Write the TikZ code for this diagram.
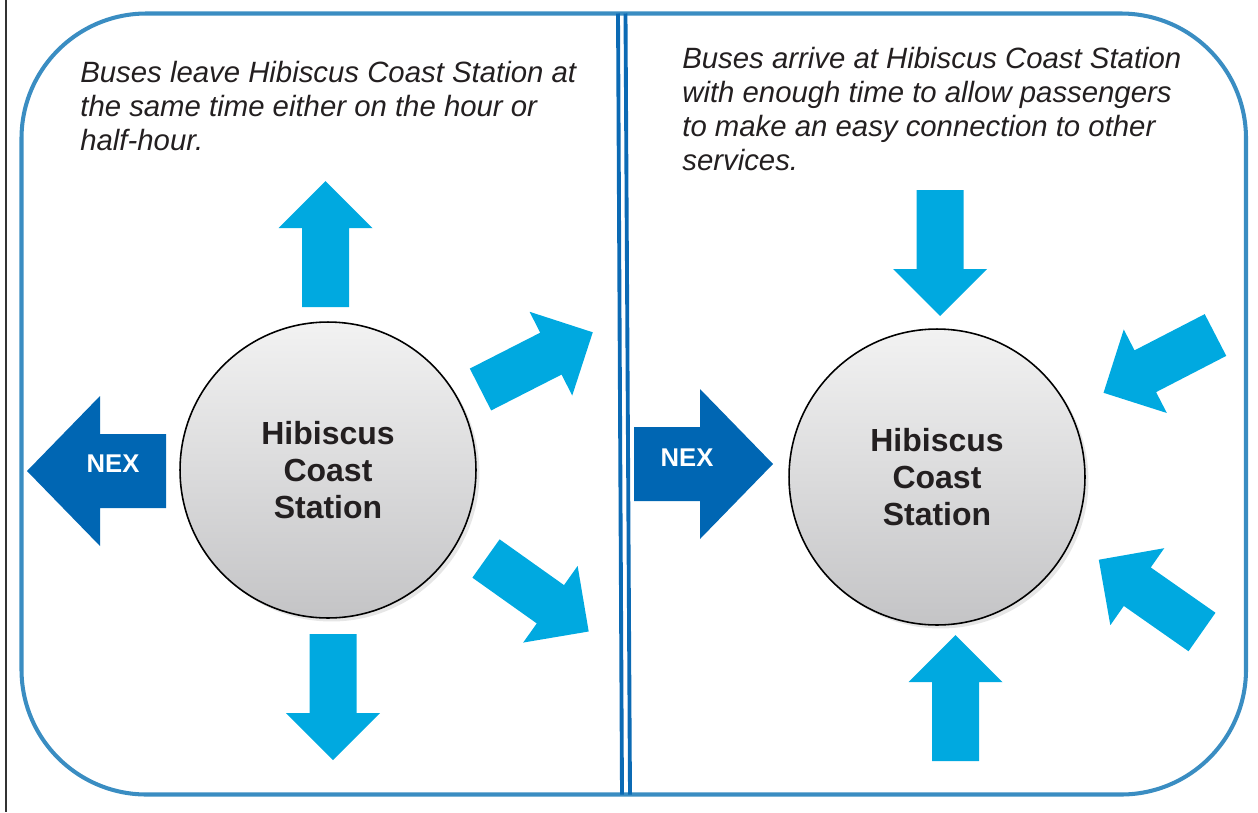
\documentclass[tikz,border=0pt]{standalone}
\usepackage{fontspec}
\setmainfont{Liberation Sans}
\usetikzlibrary{shadows}
\definecolor{frameblue}{HTML}{3A8DC2}
\definecolor{splitblue}{HTML}{0B6AB4}
\definecolor{busblue}{HTML}{00A9E0}
\definecolor{nexblue}{HTML}{0066B3}
\definecolor{hubtop}{HTML}{F2F2F2}
\definecolor{hubbottom}{HTML}{C4C4C6}
\definecolor{inkgrey}{HTML}{231F20}

\tikzset{
  busarrow/.pic={\fill[busblue] (0,-23.5) -- (79,-23.5) -- (79,-47) -- (126,0) -- (79,47) -- (79,23.5) -- (0,23.5) -- cycle;},
  nexarrow/.pic={\fill[nexblue] (0,-37) -- (66,-37) -- (66,-75) -- (139,0) -- (66,75) -- (66,37) -- (0,37) -- cycle;},
  station/.style={circle, draw=black, line width=0.9pt, minimum size=5.92cm, inner sep=0pt,
    top color=hubtop, bottom color=hubbottom, align=center, text=inkgrey,
    font=\fontsize{18.2}{21}\selectfont\bfseries,
    drop shadow={opacity=0.2, shadow xshift=2pt, shadow yshift=-2pt}},
  note/.style={anchor=north west, inner sep=0pt, align=left, text=inkgrey,
    font=\fontsize{16.7}{19.4}\selectfont\itshape},
  nexlabel/.style={inner sep=0pt, text=white, font=\fontsize{14.6}{16}\selectfont\bfseries}
}

\begin{document}
\begin{tikzpicture}[x=0.02cm,y=-0.02cm]
  \useasboundingbox (0,0) rectangle (1258,812);
  % frame and divider
  \draw[black!80, line width=0.85pt] (6,0) -- (6,812);
  \draw[frameblue, line width=2.3pt, rounded corners=2.5cm] (21.5,13.5) rectangle (1246,794.5);
  \draw[splitblue, line width=2.2pt] (618,13.5) -- (622,794.5);
  \draw[splitblue, line width=2.2pt] (625.5,13.5) -- (630,794.5);

  % left panel: departures
  \node[note] (leaveText) at (80,61) {Buses leave Hibiscus Coast Station at\\the same time either on the hour or\\half-hour.};
  \node[station] (hubLeave) at (328,470) {Hibiscus\\Coast\\Station};
  \pic[rotate=90] (outUp) at (325.5,307) {busarrow};
  \pic[rotate=27] (outNE) at (480.5,389.5) {busarrow};
  \pic[rotate=-35.4] (outSE) at (486,558.5) {busarrow};
  \pic[rotate=-90] (outDown) at (333,634) {busarrow};
  \pic[rotate=180] (nexOut) at (166,471) {nexarrow};
  \node[nexlabel] (nexLeave) at (113,464) {NEX};

  % right panel: arrivals
  \node[note] (arriveText) at (682,47) {Buses arrive at Hibiscus Coast Station\\with enough time to allow passengers\\to make an easy connection to other\\services.};
  \node[station] (hubArrive) at (937,477) {Hibiscus\\Coast\\Station};
  \pic[rotate=-90] (inTop) at (940,190) {busarrow};
  \pic[rotate=207.3] (inNE) at (1215.5,335) {busarrow};
  \pic[rotate=145] (inSE) at (1202,632) {busarrow};
  \pic[rotate=90] (inBottom) at (955.5,761) {busarrow};
  \pic (nexIn) at (634,464) {nexarrow};
  \node[nexlabel] (nexArrive) at (687,458) {NEX};
\end{tikzpicture}
\end{document}
